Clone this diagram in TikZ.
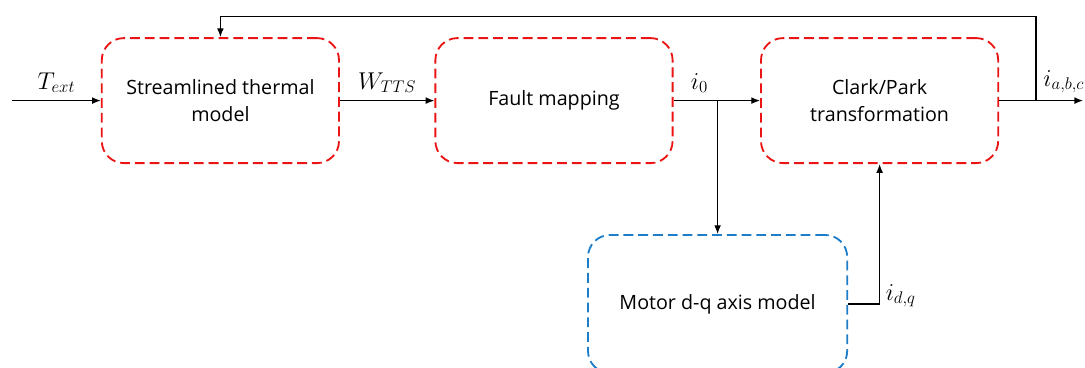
\documentclass[tikz,border=0pt]{standalone}
\usepackage{fontspec}
\setmainfont{Open Sans}
\usepackage{tikz}
\usetikzlibrary{arrows.meta,positioning}
\definecolor{boxred}{RGB}{235,20,20}
\definecolor{boxblue}{RGB}{30,125,200}
\begin{document}
\begin{tikzpicture}[every node/.style={font=\fontsize{14}{19.2}\selectfont},
  rbox/.style={draw=boxred, line width=1.3pt, dash pattern=on 7pt off 3.5pt, rounded corners=0.55cm, minimum height=3.125cm, minimum width=5.93cm, align=center},
  bbox/.style={draw=boxblue, line width=1.3pt, dash pattern=on 7pt off 3.5pt, rounded corners=0.55cm, minimum height=3.45cm, minimum width=6.48cm, align=center},
  arr/.style={-{Latex[length=2.2mm, width=1.7mm]}, line width=0.9pt},
  lbl/.style={font=\fontsize{18}{18}\selectfont, inner sep=2pt}]
\useasboundingbox (0,0) rectangle (27.125,9.175);
% Blocks
\node[rbox] (thermal) at (5.51,6.66) {Streamlined thermal\\model};
\node[rbox] (fault) at (13.85,6.66) {Fault mapping};
\node[rbox] (clark) at (21.99,6.66) {Clark/Park\\transformation};
\node[bbox] (motor) at (17.94,1.575) {Motor d-q axis model};
% Free ends
\coordinate (in) at (0.3,6.66);
\coordinate (out) at (27.08,6.66);
\coordinate (fb) at (25.9,6.66);
% Signal path
\draw[arr] (in) -- (thermal.west) node[lbl, midway, above=3pt] {$T_{ext}$};
\draw[arr] (thermal.east) -- (fault.west) node[lbl, midway, above=3pt] {$W_{TTS}$};
\draw[arr] (fault.east) -- (clark.west) node[lbl, pos=0.3, above=3pt] {$i_0$};
\draw[arr] (clark.east) -- (out) node[lbl, pos=0.77, above=3pt] {$i_{a,b,c}$};
% Branch to motor model
\draw[arr] (motor.north |- fault.east) -- (motor.north);
\draw[arr] (motor.east) -| (clark.south) node[lbl, pos=0.5, anchor=west, xshift=2pt, yshift=6pt] {$i_{d,q}$};
% Feedback
\draw[arr] (fb) -- ++(0,2.11) -| (thermal.north);
\end{tikzpicture}
\end{document}
